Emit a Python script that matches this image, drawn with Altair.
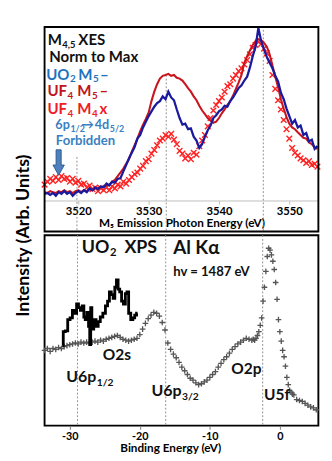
import altair as alt
import pandas as pd

FONT = "Lato"

# ---------------- Top panel: M5 XES (normalised) ----------------
E0, dE = 3515.2, 0.4
uo2_m5 = [3.8, 4.3, 3.2, 4.3, 2.7, 4.8, 3.8, 5.4, 3.8, 4.8,
          2.7, 4.3, 5.4, 4.3, 5.9, 4.8, 7.0, 5.9, 7.5, 6.5,
          8.1, 7.5, 9.7, 8.6, 10.8, 10.2, 12.4, 12.9, 16.7, 20.4,
          24.2, 27.4, 30.6, 35.5, 37.6, 41.9, 45.2, 48.4, 51.1, 53.8,
          55.9, 57.0, 59.7, 58.1, 62.4, 59.1, 57.5, 52.2, 47.3, 43.5,
          44.1, 40.9, 41.4, 36.6, 34.4, 30.1, 32.3, 36.6, 40.3, 43.0,
          47.3, 48.9, 51.1, 52.2, 54.3, 53.8, 57.0, 59.1, 61.8, 64.5,
          66.1, 68.8, 71.0, 76.3, 82.8, 88.2, 98.9, 91.4, 86.6, 82.3,
          79.0, 75.8, 71.5, 68.3, 61.8, 58.1, 52.7, 48.4, 44.1, 46.2,
          41.9, 43.0, 37.6, 38.7, 33.9, 34.9, 29.6, 31.2]
uf4_m5 = [4.8, 4.3, 5.4, 4.8, 4.3, 5.4, 4.8, 5.9, 4.8, 5.4,
          4.3, 5.4, 5.9, 4.8, 5.9, 5.4, 6.5, 5.9, 7.0, 7.0,
          7.5, 8.1, 8.6, 9.1, 10.8, 11.8, 14.0, 16.1, 18.3, 21.0,
          23.7, 28.0, 31.7, 35.5, 39.8, 43.5, 46.8, 50.5, 57.0, 62.4,
          66.7, 69.9, 71.5, 72.0, 72.6, 71.5, 72.0, 70.4, 69.9, 68.8,
          66.7, 64.5, 62.4, 59.7, 57.5, 54.3, 51.6, 49.5, 47.3, 45.7,
          44.6, 45.2, 47.3, 50.0, 52.2, 54.8, 57.0, 60.2, 64.0, 67.7,
          72.0, 79.0, 82.8, 86.0, 89.2, 91.4, 92.5, 91.9, 90.3, 88.2,
          83.9, 77.4, 71.0, 65.1, 58.1, 52.7, 47.8, 44.1, 41.9, 40.9,
          39.2, 37.6, 36.0, 35.5, 33.3, 32.3, 30.6, 29.6]
uf4_m4 = [9.1, 10.8, 12.4, 11.3, 13.4, 11.8, 14.0, 12.4, 12.9, 10.8,
          12.4, 10.2, 11.3, 9.1, 9.7, 7.5, 8.6, 6.5, 7.5, 5.4,
          7.0, 5.9, 7.5, 5.9, 8.1, 7.0, 9.1, 8.1, 10.8, 9.7,
          11.8, 13.4, 15.1, 16.1, 18.3, 19.9, 22.6, 23.7, 26.9, 29.0,
          31.7, 34.4, 35.5, 37.6, 36.6, 38.2, 34.9, 32.3, 28.5, 26.9,
          24.2, 25.8, 23.7, 27.4, 26.3, 31.2, 34.4, 37.6, 42.5, 47.3,
          51.6, 54.8, 57.0, 59.1, 62.4, 65.6, 66.7, 69.9, 72.0, 74.2,
          75.8, 78.0, 80.6, 83.9, 87.6, 89.2, 90.9, 89.8, 87.1, 84.4,
          80.1, 72.0, 64.0, 57.5, 52.2, 46.2, 40.9, 35.5, 30.1, 27.4,
          25.8, 24.2, 23.1, 21.5, 22.6, 20.4, 21.0, 19.4]

top_ticks = [3520, 3530, 3540, 3550]
top_guides_E = [3519.8, 3532.5, 3546.3]
top_guides_top = [25, 72, 100]

BLK, BLU, DRED, RED, SBLU = "#111111", "#1e73be", "#c0141c", "#ee1c24", "#3a7fc1"
# text pieces that END at their anchor (right aligned)
top_r_txt = ["M", "UO", "M", "UF", "M", "UF", "M", "6p", "4d"]
top_r_E = [3517.67, 3518.73, 3522.0, 3518.4, 3521.87, 3518.4, 3521.87, 3518.8, 3524.4]
top_r_v = [89.25, 69.35, 69.35, 59.68, 59.68, 49.46, 49.46, 40.86, 40.86]
top_r_fs = [16, 16, 16, 16, 16, 16, 16, 13.5, 13.5]
top_r_col = [BLK, BLU, BLU, DRED, DRED, RED, RED, SBLU, SBLU]
# text pieces that START at their anchor (left aligned)
top_l_txt = ["4,5", "XES", "Norm to Max",
             "2", "5", "\u2013",
             "4", "5", "\u2013",
             "4", "4", "x",
             "1/2", "\u2192", "5/2",
             "Forbidden"]
top_l_E = [3517.73, 3520.0, 3515.87,
           3518.8, 3522.07, 3523.07,
           3518.47, 3521.93, 3523.0,
           3518.47, 3521.93, 3523.0,
           3518.87, 3520.4, 3524.47,
           3516.8]
top_l_v = [87.63, 89.25, 79.57,
           67.74, 67.74, 69.35,
           58.06, 58.06, 59.68,
           47.85, 47.85, 49.46,
           39.25, 40.86, 39.25,
           31.72]
top_l_fs = [10, 16, 16,
            10.5, 10.5, 16,
            10.5, 10.5, 16,
            10.5, 10.5, 16,
            9.5, 13.5, 9.5,
            14]
top_l_col = [BLK, BLK, BLK,
             BLU, BLU, BLU,
             DRED, DRED, DRED,
             RED, RED, RED,
             SBLU, SBLU, SBLU,
             SBLU]
arrow_E, arrow_v = [3517.2], [21.8]

# ---------------- Bottom panel: UO2 XPS ----------------
be = [-33.6, -33.2, -32.8, -32.4, -32.0, -31.6, -31.2, -30.8, -30.4, -30.0,
      -29.6, -29.2, -28.8, -28.4, -28.0, -27.6, -27.2, -26.8, -26.4, -26.0,
      -25.6, -25.2, -24.8, -24.4, -24.0, -23.6, -23.2, -22.8, -22.4, -22.0,
      -21.6, -21.2, -20.8, -20.4, -20.0, -19.6, -19.2, -18.8, -18.4, -18.0,
      -17.6, -17.2, -16.8, -16.4, -16.0, -15.6, -15.2, -14.8, -14.4, -14.0,
      -13.6, -13.2, -12.8, -12.4, -12.0, -11.6, -11.2, -10.8, -10.4, -10.0,
      -9.6, -9.2, -8.8, -8.4, -8.0, -7.6, -7.2, -6.8, -6.4, -6.0,
      -5.6, -5.2, -4.8, -4.4, -4.0,
      -3.8, -3.6, -3.4, -3.2, -3.0, -2.8, -2.6, -2.4, -2.2, -2.0,
      -1.8, -1.6, -1.4, -1.2, -1.0, -0.8, -0.6, -0.4, -0.2, 0.0,
      0.2, 0.4, 0.6, 0.8, 1.0, 1.2, 1.4, 1.6, 1.8, 2.0,
      2.4, 2.8, 3.2, 3.6, 4.0, 4.4, 4.8, 5.2]
xps = [39.9, 40.9, 39.4, 40.9, 40.4, 41.4, 40.9, 41.9, 42.4, 42.9,
       43.3, 43.8, 43.3, 44.3, 43.8, 44.3, 43.8, 44.3, 44.8, 44.3,
       45.3, 44.8, 45.8, 46.3, 46.8, 47.3, 47.8, 46.8, 45.8, 45.3,
       44.8, 45.3, 45.8, 46.3, 48.3, 51.2, 54.2, 56.7, 58.6, 60.1,
       59.6, 58.1, 54.7, 50.7, 43.8, 40.4, 37.9, 36.0, 33.5, 31.0,
       29.1, 27.1, 25.1, 24.1, 22.7, 21.7, 22.2, 23.2, 24.1, 25.6,
       27.1, 28.6, 31.0, 33.0, 35.0, 36.5, 38.4, 40.4, 41.9, 43.3,
       44.3, 45.3, 46.3, 45.8, 45.3,
       45.8, 45.3, 46.3, 47.8, 49.8, 53.2, 57.1, 66.0, 73.4, 81.8,
       89.7, 94.1, 93.1, 90.6, 87.2, 82.8, 75.9, 67.0, 56.2, 49.8,
       44.8, 39.9, 36.5, 31.5, 25.6, 21.7, 18.7, 17.7, 16.7, 16.3,
       13.8, 13.3, 12.8, 11.8, 10.8, 9.9, 9.4, 8.4]

be_zoom = [-31.03, -30.83, -30.43, -30.16, -29.76, -29.49, -29.16, -28.89, -28.62, -28.35,
           -28.09, -27.89, -27.69, -27.42, -27.22, -27.08, -26.95, -26.75, -26.41, -26.08,
           -25.81, -25.48, -25.08, -24.74, -24.47, -24.21, -23.94, -23.67, -23.47, -23.20,
           -23.00, -22.74, -22.47, -22.20, -21.93, -21.73, -21.46, -21.13, -20.86, -20.60,
           -20.33]
xps_zoom = [42.4, 49.8, 50.2, 56.2, 57.1, 61.1, 59.6, 64.5, 62.6, 61.1,
            63.5, 57.6, 56.2, 60.1, 52.7, 42.9, 62.6, 51.2, 56.2, 52.7,
            55.2, 57.6, 59.6, 63.5, 66.0, 70.9, 69.5, 67.5, 73.4, 77.3,
            72.4, 70.9, 66.0, 64.5, 70.0, 70.9, 59.6, 56.2, 57.1, 58.6,
            59.6]

bot_ticks = [-30, -20, -10, 0]
bot_guides = [-28.9, -16.3, -2.45]

bot_r_txt = ["UO", "U6p", "U6p"]
bot_r_E = [-24.34, -26.21, -14.04]
bot_r_v = [91.6, 23.2, 15.8]
bot_r_fs = [19, 17, 17]
bot_l_txt = ["2", "XPS", "Al K\u03b1", "hv = 1487 eV", "O2s", "1/2", "3/2", "O2p", "U5f"]
bot_l_E = [-24.27, -22.2, -15.24, -15.24, -25.28, -26.15, -13.97, -6.95, -2.27]
bot_l_v = [90.1, 91.6, 91.1, 79.3, 35.0, 21.2, 13.8, 27.1, 13.8]
bot_l_fs = [12, 19, 20, 14, 16.5, 11, 11, 16.5, 16.5]

# ---------------- build ----------------
TOP_W, TOP_H = 292, 186
BOT_W, BOT_H = 292, 203

def series(xs, ys):
    return pd.DataFrame({"E": xs, "v": ys})

energy_u = [round(E0 + dE * i, 1) for i in range(len(uo2_m5))]
energy_r = [round(E0 + dE * i, 1) for i in range(len(uf4_m5))]
energy_x = [round(E0 + dE * i, 1) for i in range(len(uf4_m4))]

xT = alt.X("E:Q", scale=alt.Scale(domain=[3515.2, 3554.13], nice=False, zero=False),
           axis=alt.Axis(values=top_ticks, labelExpr="datum.value + ''", grid=False,
                         labelFont=FONT, labelFontSize=12, labelFontWeight="bold", labelColor="black",
                         labelPadding=2, tickSize=4, tickColor="#bbbbbb", domainColor="#bbbbbb",
                         title="M\u2085 Emission Photon Energy (eV)", titleFont=FONT, titleFontSize=12.5,
                         titleFontWeight="bold", titleColor="black", titlePadding=1))
yT = alt.Y("v:Q", scale=alt.Scale(domain=[0, 100], nice=False, zero=False), axis=None)

guides_top = alt.Chart(pd.DataFrame({"E": top_guides_E, "v": top_guides_top})).mark_rule(
    color="#8a8a8a", strokeDash=[2, 2], strokeWidth=1).encode(x=xT, y=yT, y2=alt.value(219))

frame_top = alt.Chart(pd.DataFrame({"a": [0]})).mark_rect(
    fillOpacity=0, stroke="black", strokeWidth=2).encode(
    x=alt.value(0), x2=alt.value(TOP_W), y=alt.value(1), y2=alt.value(219))

xmark = alt.Chart(series(energy_x, uf4_m4)).mark_point(
    shape="M-1,-1L1,1M-1,1L1,-1", filled=False, size=36, strokeWidth=1.5, color="#ff2222", opacity=1
).encode(x=xT, y=yT)
redline = alt.Chart(series(energy_r, uf4_m5)).mark_line(color="#c8161e", strokeWidth=2.2).encode(x=xT, y=yT)
blueline = alt.Chart(series(energy_u, uo2_m5)).mark_line(color="#1a1a9e", strokeWidth=2.4).encode(x=xT, y=yT)

def text_layer(E, v, t, fs, col, align, xenc, yenc):
    df = pd.DataFrame({"E": E, "v": v, "t": t, "fs": fs, "c": col})
    return alt.Chart(df).mark_text(align=align, baseline="alphabetic", font=FONT, fontWeight="bold").encode(
        x=xenc, y=yenc, text="t:N", size=alt.Size("fs:Q", scale=None), color=alt.Color("c:N", scale=None))

top_text_r = text_layer(top_r_E, top_r_v, top_r_txt, top_r_fs, top_r_col, "right", xT, yT)
top_text_l = text_layer(top_l_E, top_l_v, top_l_txt, top_l_fs, top_l_col, "left", xT, yT)

arrow = alt.Chart(series(arrow_E, arrow_v)).mark_point(
    shape="M-0.2,-1L0.2,-1L0.2,0.2L0.45,0.2L0,1L-0.45,0.2L-0.2,0.2Z",
    filled=True, size=729, color="#4f7fbf", stroke="#2d5b8c", strokeWidth=1, opacity=1
).encode(x=xT, y=yT)

top = alt.layer(guides_top, xmark, redline, blueline, top_text_r, top_text_l, arrow, frame_top).properties(
    width=TOP_W, height=TOP_H, view=alt.ViewBackground(stroke="transparent"))

xB = alt.X("E:Q", scale=alt.Scale(domain=[-33.6, 5.5], nice=False, zero=False),
           axis=alt.Axis(values=bot_ticks, labelExpr="datum.value + ''", grid=False, domain=False,
                         labelFont=FONT, labelFontSize=11.5, labelFontWeight="bold", labelColor="black",
                         labelPadding=2, tickSize=4, tickColor="#777777",
                         title="Binding Energy (eV)", titleFont=FONT, titleFontSize=12.5,
                         titleFontWeight="bold", titleColor="black", titlePadding=0, titleX=134))
yB = alt.Y("v:Q", scale=alt.Scale(domain=[0, 101], nice=False, zero=False),
           axis=alt.Axis(labels=False, ticks=False, domain=False, grid=False,
                         title="Intensity (Arb. Units)", titleFont=FONT, titleFontSize=19,
                         titleFontWeight="bold", titleColor="black", titleAngle=270,
                         titleX=-17, titleY=0, titleAlign="center", titleBaseline="alphabetic"))

guides_bot = alt.Chart(pd.DataFrame({"E": bot_guides})).mark_rule(
    color="#8a8a8a", strokeDash=[2, 2], strokeWidth=1).encode(x=xB)

plus = alt.Chart(series(be, xps)).mark_point(
    shape="M-1,0L1,0M0,-1L0,1", filled=False, size=36, strokeWidth=1.4, color="#555555", opacity=1
).encode(x=xB, y=yB)
zoomline = alt.Chart(series(be_zoom, xps_zoom)).mark_line(
    color="black", strokeWidth=3, interpolate="step").encode(x=xB, y=yB)

bot_text_r = text_layer(bot_r_E, bot_r_v, bot_r_txt, bot_r_fs, [BLK] * len(bot_r_txt), "right", xB, yB)
bot_text_l = text_layer(bot_l_E, bot_l_v, bot_l_txt, bot_l_fs, [BLK] * len(bot_l_txt), "left", xB, yB)

bottom = alt.layer(guides_bot, plus, zoomline, bot_text_r, bot_text_l).properties(
    width=BOT_W, height=BOT_H, view=alt.ViewBackground(stroke="black", strokeWidth=2))

chart = alt.vconcat(top, bottom, spacing=37, bounds="flush").properties(
    padding={"left": 5, "top": 0, "right": 0, "bottom": 0}, background="white")

chart.save("out.html", embed_options={"renderer": "svg", "actions": False})
